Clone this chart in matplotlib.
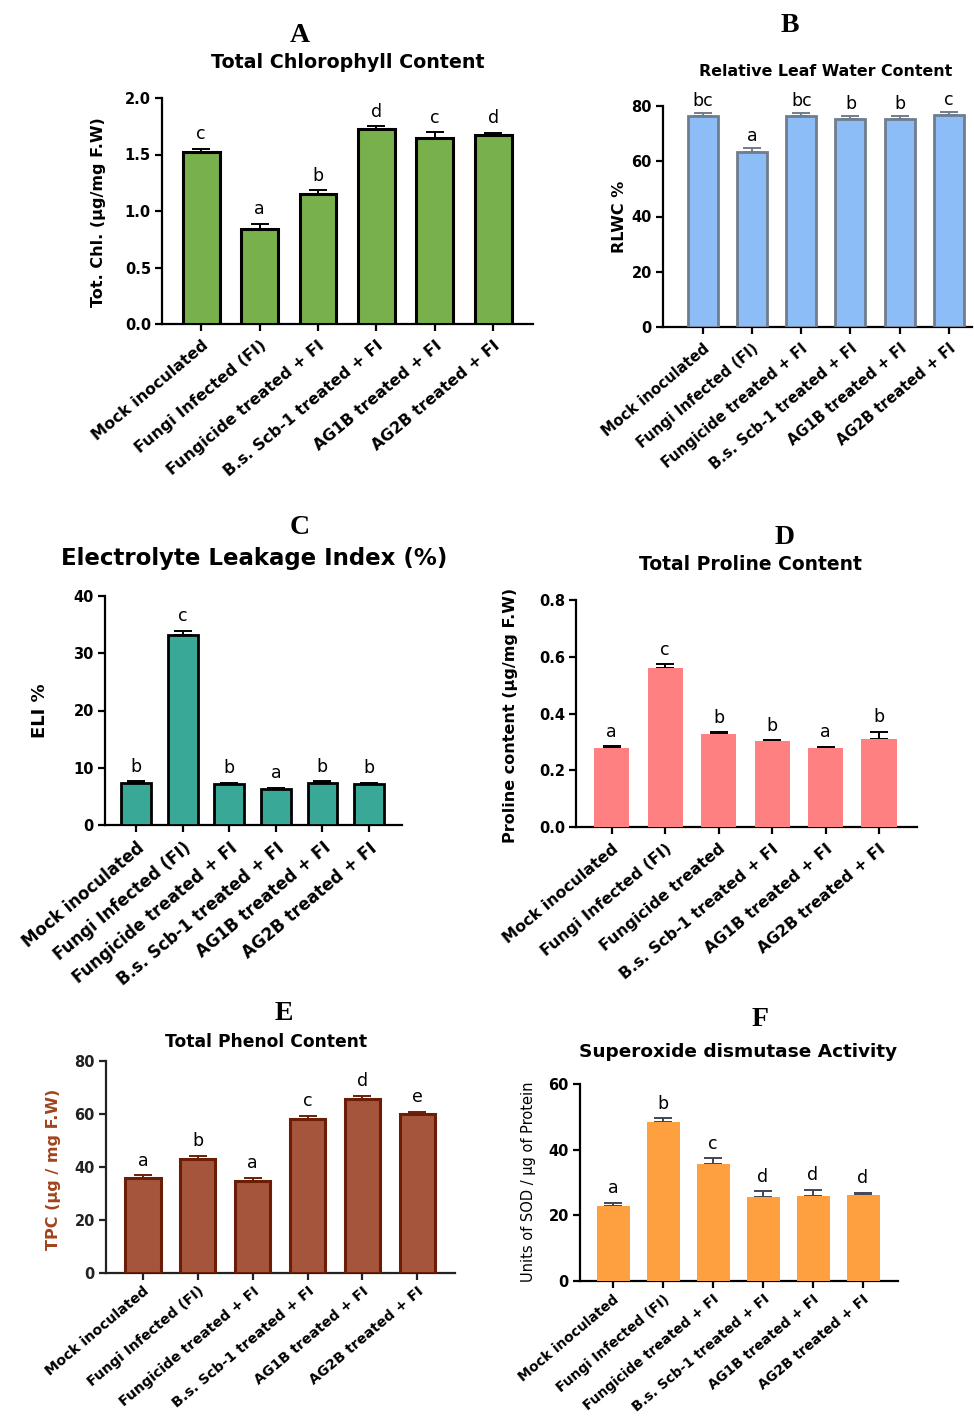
import matplotlib
matplotlib.use("Agg")
import matplotlib.pyplot as plt
import numpy as np

W, H, DPI = 974, 1417, 100

# ---------------- data ----------------
groups = ["Mock inoculated", "Fungi Infected (FI)", "Fungicide treated + FI",
          "B.s. Scb-1 treated + FI", "AG1B treated + FI", "AG2B treated + FI"]
groups_proline = ["Mock inoculated", "Fungi Infected (FI)", "Fungicide treated",
                  "B.s. Scb-1 treated + FI", "AG1B treated + FI", "AG2B treated + FI"]

chl_mean = [1.52, 0.84, 1.15, 1.73, 1.65, 1.67]
chl_err = [0.03, 0.045, 0.035, 0.018, 0.045, 0.021]
chl_letters = ["c", "a", "b", "d", "c", "d"]

rlwc_mean = [76.4, 63.4, 76.4, 75.3, 75.2, 76.9]
rlwc_err = [1.2, 1.3, 1.1, 1.0, 1.1, 1.1]
rlwc_letters = ["bc", "a", "bc", "b", "b", "c"]

eli_mean = [7.3, 33.2, 7.1, 6.35, 7.3, 7.1]
eli_err = [0.3, 0.7, 0.3, 0.15, 0.3, 0.3]
eli_letters = ["b", "c", "b", "a", "b", "b"]

pro_mean = [0.278, 0.562, 0.327, 0.303, 0.278, 0.310]
pro_err = [0.006, 0.012, 0.007, 0.002, 0.005, 0.025]
pro_letters = ["a", "c", "b", "b", "a", "b"]

tpc_mean = [35.7, 43.2, 34.8, 58.3, 65.6, 60.0]
tpc_err = [1.1, 1.0, 1.2, 1.0, 1.2, 0.9]
tpc_letters = ["a", "b", "a", "c", "d", "e"]

sod_mean = [22.9, 48.4, 35.7, 25.7, 25.9, 26.3]
sod_err = [1.0, 1.1, 1.7, 1.6, 1.9, 0.6]
sod_letters = ["a", "b", "c", "d", "d", "d"]

FONT = "DejaVu Sans"
plt.rcParams["font.family"] = [FONT]

fig = plt.figure(figsize=(W / DPI, H / DPI), dpi=DPI)
fig.patch.set_facecolor("white")


def fx(x):
    return x / W


def fy(y):
    return 1 - y / H


def panel(box, xlim, ylim, yticks, tickfmt, mean, err, letters, labels,
          face, edge, elw, ecolor, width, ylabel, ylab_xy, ylab_kw,
          title, title_xy, title_size, tag, tag_xy, xlab_size=10.5,
          spine_color="black", tick_color="black", letter_off=4, xpad=5):
    x0, y0, x1, y1 = box
    ax = fig.add_axes([fx(x0), fy(y1), (x1 - x0) / W, (y1 - y0) / H])
    x = np.arange(len(mean))
    ax.bar(x, mean, width=width, color=face, edgecolor=edge,
           linewidth=elw, zorder=3)
    ax.errorbar(x, mean, yerr=[np.zeros(len(err)), err], fmt="none",
                ecolor=ecolor, elinewidth=1.4, capsize=6.5, capthick=1.4,
                zorder=2)
    for xi, m, e, t in zip(x, mean, err, letters):
        ax.annotate(t, (xi, m + e), xytext=(0, letter_off),
                    textcoords="offset points", ha="center", va="bottom",
                    fontsize=12.5, color="black")
    ax.set_xlim(*xlim)
    ax.set_ylim(*ylim)
    ax.set_yticks(yticks)
    ax.set_yticklabels([tickfmt.format(v) for v in yticks],
                       fontsize=10.5, fontweight="bold", color=tick_color)
    ax.set_xticks(x)
    ax.set_xticklabels(labels, rotation=40, ha="right",
                       rotation_mode="anchor", fontsize=xlab_size,
                       fontweight="bold")
    for s in ("top", "right"):
        ax.spines[s].set_visible(False)
    for s in ("left", "bottom"):
        ax.spines[s].set_linewidth(1.6)
        ax.spines[s].set_color(spine_color)
    ax.tick_params(axis="both", length=5, width=1.6, color=spine_color)
    ax.tick_params(axis="x", pad=xpad)
    ax.tick_params(axis="y", pad=3)
    ax.set_facecolor("none")
    fig.text(fx(ylab_xy[0]), fy(ylab_xy[1]), ylabel, rotation=90,
             ha="center", va="center", **ylab_kw)
    fig.text(fx(title_xy[0]), fy(title_xy[1]), title, ha="center",
             va="center", fontsize=title_size, fontweight="bold")
    fig.text(fx(tag_xy[0]), fy(tag_xy[1]), tag, ha="center", va="center",
             fontsize=20, fontweight="bold", family="Liberation Serif")
    return ax


bold_lab = dict(fontsize=11.5, fontweight="bold", color="black")

# A - chlorophyll
panel((162, 98, 533, 324), (-0.67, 5.68), (0, 2.0), [0, 0.5, 1.0, 1.5, 2.0],
      "{:.1f}", chl_mean, chl_err, chl_letters, groups,
      "#78B04B", "black", 2.2, "black", 0.63,
      "Tot. Chl. (µg/mg F.W)", (99, 212), bold_lab,
      "Total Chlorophyll Content", (348, 62), 13.7, "A", (300, 35),
      xlab_size=11.4)

# B - relative leaf water content
panel((663, 106, 972, 327), (-0.81, 5.47), (0, 80), [0, 20, 40, 60, 80],
      "{:.0f}", rlwc_mean, rlwc_err, rlwc_letters, groups,
      "#8DBDF6", "#6F7D8C", 2.0, "#6F7D8C", 0.61,
      "RLWC %", (619, 217), bold_lab,
      "Relative Leaf Water Content", (826, 71), 11.4, "B", (790, 25),
      xlab_size=10.5, letter_off=2)

# C - electrolyte leakage
panel((105, 596, 402, 825), (-0.67, 5.71), (0, 40), [0, 10, 20, 30, 40],
      "{:.0f}", eli_mean, eli_err, eli_letters, groups,
      "#3AA896", "black", 2.0, "black", 0.64,
      "ELI %", (40, 711), dict(fontsize=13, fontweight="bold", color="black"),
      "Electrolyte Leakage Index (%)", (254, 558), 16.5, "C", (300, 527),
      xlab_size=12)

# D - proline
panel((576, 600, 917, 827), (-0.67, 5.71), (0, 0.8), [0, 0.2, 0.4, 0.6, 0.8],
      "{:.1f}", pro_mean, pro_err, pro_letters, groups_proline,
      "#FF8080", "none", 0, "black", 0.66,
      "Proline content (µg/mg F.W)", (511, 715), bold_lab,
      "Total Proline Content", (750, 565), 13.5, "D", (785, 537),
      xlab_size=11.3)

# E - phenol
panel((106, 1061, 455, 1273), (-0.675, 5.69), (0, 80), [0, 20, 40, 60, 80],
      "{:.0f}", tpc_mean, tpc_err, tpc_letters, groups,
      "#A5553C", "#6B1E05", 2.2, "#6B1E05", 0.64,
      "TPC (µg / mg F.W)", (54, 1169),
      dict(fontsize=11.5, fontweight="bold", color="#A0441C"),
      "Total Phenol Content", (266, 1042), 12.3, "E", (284, 1013),
      xlab_size=10.2, xpad=3, spine_color="#222222", tick_color="#222222")

# F - superoxide dismutase
panel((580, 1084, 898, 1281), (-0.66, 5.7), (0, 60), [0, 20, 40, 60],
      "{:.0f}", sod_mean, sod_err, sod_letters, groups,
      "#FFA040", "none", 0, "#3E4656", 0.66,
      "Units of SOD / µg of Protein", (529, 1182),
      dict(fontsize=10.5, color="black"),
      "Superoxide dismutase Activity", (738, 1052), 13.3, "F", (760, 1020),
      xlab_size=9.8, xpad=3)

fig.savefig("out.png", dpi=DPI, facecolor="white")
